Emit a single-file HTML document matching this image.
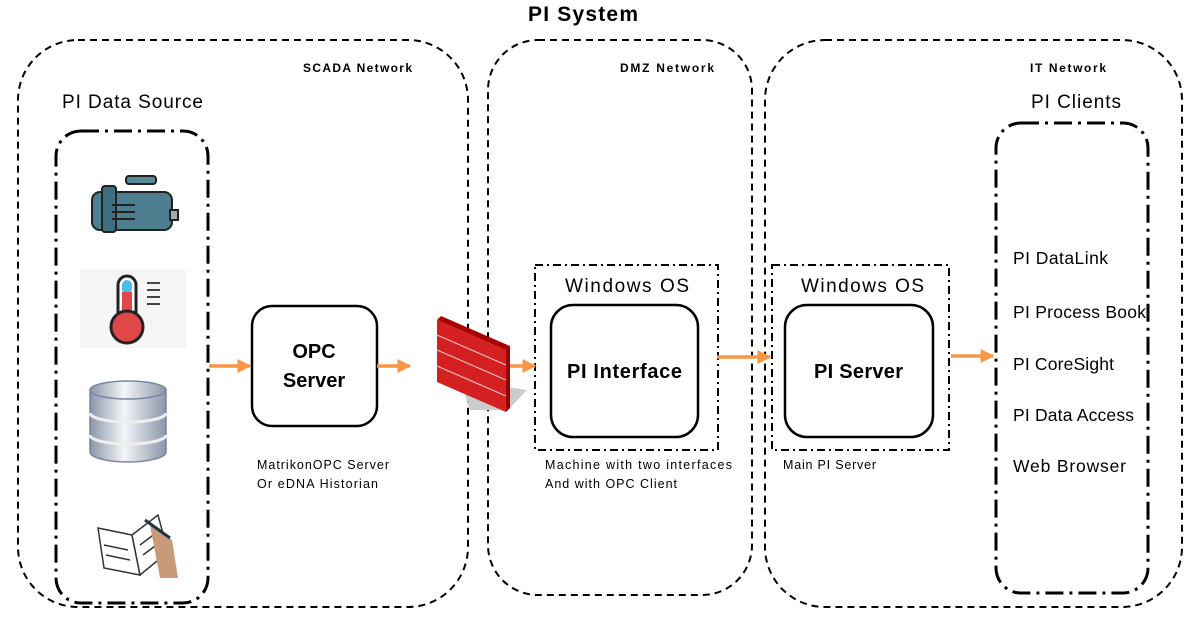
<!DOCTYPE html>
<html><head><meta charset="utf-8"><style>
html,body{margin:0;padding:0;background:#fff;}
svg{display:block;font-family:"Liberation Sans",Calibri,sans-serif;}
</style></head><body>
<svg width="1198" height="622" viewBox="0 0 1198 622" xmlns="http://www.w3.org/2000/svg">
<defs>
<marker id="ah" viewBox="0 0 10 10" refX="9" refY="5" markerWidth="4" markerHeight="4" orient="auto"><path d="M0,0L10,5L0,10z" fill="#f79646"/></marker>
<linearGradient id="db" x1="0" x2="1"><stop offset="0" stop-color="#8a96aa"/><stop offset="0.45" stop-color="#f4f6f8"/><stop offset="1" stop-color="#8a96aa"/></linearGradient>
</defs>
<text x="583" y="21" font-size="21" font-weight="bold" text-anchor="middle" textLength="110">PI System</text>
<rect x="18" y="40" width="450" height="567" rx="60" fill="none" stroke="#000" stroke-width="2" stroke-dasharray="7,5"/>
<rect x="488" y="40" width="264" height="555" rx="50" fill="none" stroke="#000" stroke-width="2" stroke-dasharray="7,5"/>
<rect x="765" y="40" width="417" height="567" rx="60" fill="none" stroke="#000" stroke-width="2" stroke-dasharray="7,5"/>
<text x="303" y="72" font-size="12" font-weight="bold" textLength="109">SCADA Network</text>
<text x="620" y="72" font-size="12" font-weight="bold" textLength="94">DMZ Network</text>
<text x="1030" y="72" font-size="12" font-weight="bold" textLength="76">IT Network</text>
<text x="62" y="108" font-size="19" textLength="141">PI Data Source</text>
<text x="1031" y="108" font-size="19" textLength="90">PI Clients</text>
<rect x="56" y="131" width="152" height="472" rx="25" fill="none" stroke="#000" stroke-width="3" stroke-dasharray="18,6,3,6"/>
<rect x="996" y="123" width="152" height="470" rx="25" fill="none" stroke="#000" stroke-width="3" stroke-dasharray="18,6,3,6"/>
<rect x="535" y="265" width="183" height="185" fill="none" stroke="#000" stroke-width="2" stroke-dasharray="8,4,2,4"/>
<rect x="772" y="265" width="177" height="185" fill="none" stroke="#000" stroke-width="2" stroke-dasharray="8,4,2,4"/>
<text x="565" y="292" font-size="19" textLength="124">Windows OS</text>
<text x="801" y="292" font-size="19" textLength="123">Windows OS</text>
<rect x="252" y="306" width="125" height="120" rx="20" fill="#fff" stroke="#000" stroke-width="2.5"/>
<text x="314" y="358" font-size="20" font-weight="bold" text-anchor="middle">OPC</text>
<text x="314" y="387" font-size="20" font-weight="bold" text-anchor="middle">Server</text>
<rect x="551" y="305" width="147" height="132" rx="22" fill="#fff" stroke="#000" stroke-width="2.5"/>
<text x="567" y="378" font-size="20" font-weight="bold" textLength="115">PI Interface</text>
<rect x="785" y="305" width="148" height="132" rx="22" fill="#fff" stroke="#000" stroke-width="2.5"/>
<text x="814" y="378" font-size="20" font-weight="bold" textLength="89">PI Server</text>
<g font-size="12.5">
<text x="257" y="469" textLength="132">MatrikonOPC Server</text>
<text x="257" y="488" textLength="121">Or eDNA Historian</text>
<text x="545" y="469" textLength="187">Machine with two interfaces</text>
<text x="545" y="488" textLength="132">And with OPC Client</text>
<text x="783" y="469" textLength="93">Main PI Server</text>
</g>
<g font-size="17.5">
<text x="1013" y="264" textLength="95">PI DataLink</text>
<text x="1013" y="318" textLength="133">PI Process Book</text>
<text x="1013" y="370" textLength="101">PI CoreSight</text>
<text x="1013" y="421" textLength="121">PI Data Access</text>
<text x="1013" y="472" textLength="113">Web Browser</text>
</g>
<g stroke="#f79646" stroke-width="3.5" fill="none" marker-end="url(#ah)">
<line x1="209" y1="366" x2="250" y2="366"/>
<line x1="377" y1="366" x2="410" y2="366"/>
<line x1="507" y1="366" x2="535" y2="366"/>
<line x1="717" y1="357" x2="770" y2="357"/>
<line x1="951" y1="356" x2="993" y2="356"/>
</g>
<polygon points="460,380 527,390 508,410 470,410" fill="#ccc"/>
<polygon points="437,320 506,350 506,412 437,382" fill="#d42020"/>
<polygon points="437,320 441,316 510,346 506,350" fill="#a00"/>
<polygon points="506,350 510,346 510,408 506,412" fill="#900"/>
<g stroke="#f0c0c0" stroke-width="1.2">
<line x1="437" y1="335" x2="506" y2="365"/><line x1="437" y1="350" x2="506" y2="380"/>
<line x1="437" y1="366" x2="506" y2="396"/>
</g>
<g stroke="#222" stroke-width="2">
<rect x="126" y="176" width="30" height="8" rx="3" fill="#5a8a9a"/>
<rect x="92" y="192" width="80" height="38" rx="8" fill="#4d7f90"/>
<rect x="170" y="210" width="8" height="10" fill="#aaa"/>
<rect x="102" y="186" width="14" height="46" rx="3" fill="#3e6f80"/>
</g>
<g stroke="#222" stroke-width="2"><line x1="112" y1="205" x2="135" y2="205"/><line x1="112" y1="212" x2="135" y2="212"/><line x1="112" y1="219" x2="135" y2="219"/></g>
<rect x="80" y="270" width="106" height="78" fill="#f5f5f5"/>
<rect x="118" y="276" width="18" height="45" rx="9" fill="#fff" stroke="#222" stroke-width="3"/>
<rect x="122" y="280" width="10" height="14" rx="5" fill="#4cbbe6"/>
<rect x="122" y="292" width="10" height="30" fill="#e04848"/>
<circle cx="127" cy="327" r="16" fill="#e04848" stroke="#222" stroke-width="3"/>
<g stroke="#444" stroke-width="2"><line x1="147" y1="283" x2="160" y2="283"/><line x1="147" y1="290" x2="160" y2="290"/><line x1="147" y1="297" x2="160" y2="297"/><line x1="147" y1="304" x2="160" y2="304"/></g>
<g stroke="#7a86a0" stroke-width="1.5" fill="url(#db)">
<path d="M90,390 v62 a38,10 0 0 0 76,0 v-62z"/>
<ellipse cx="128" cy="390" rx="38" ry="9"/>
<path d="M90,413 a38,9 0 0 0 76,0" fill="none" stroke="#eee" stroke-width="3"/>
<path d="M90,435 a38,9 0 0 0 76,0" fill="none" stroke="#eee" stroke-width="3"/>
</g>
<g stroke="#333" stroke-width="1.5" fill="#fff">
<path d="M98,528 L132,535 L140,575 L104,568z"/>
<path d="M132,535 L158,515 L168,552 L140,575z"/>
<path d="M104,545 L128,550 M106,555 L130,560 M140,545 L160,530 M143,555 L163,540"/>
</g>
<path d="M150,525 L172,540 L178,578 L160,578 Z" fill="#c89a7a"/>
<line x1="145" y1="520" x2="170" y2="538" stroke="#234" stroke-width="3"/>
</svg>
</body></html>
